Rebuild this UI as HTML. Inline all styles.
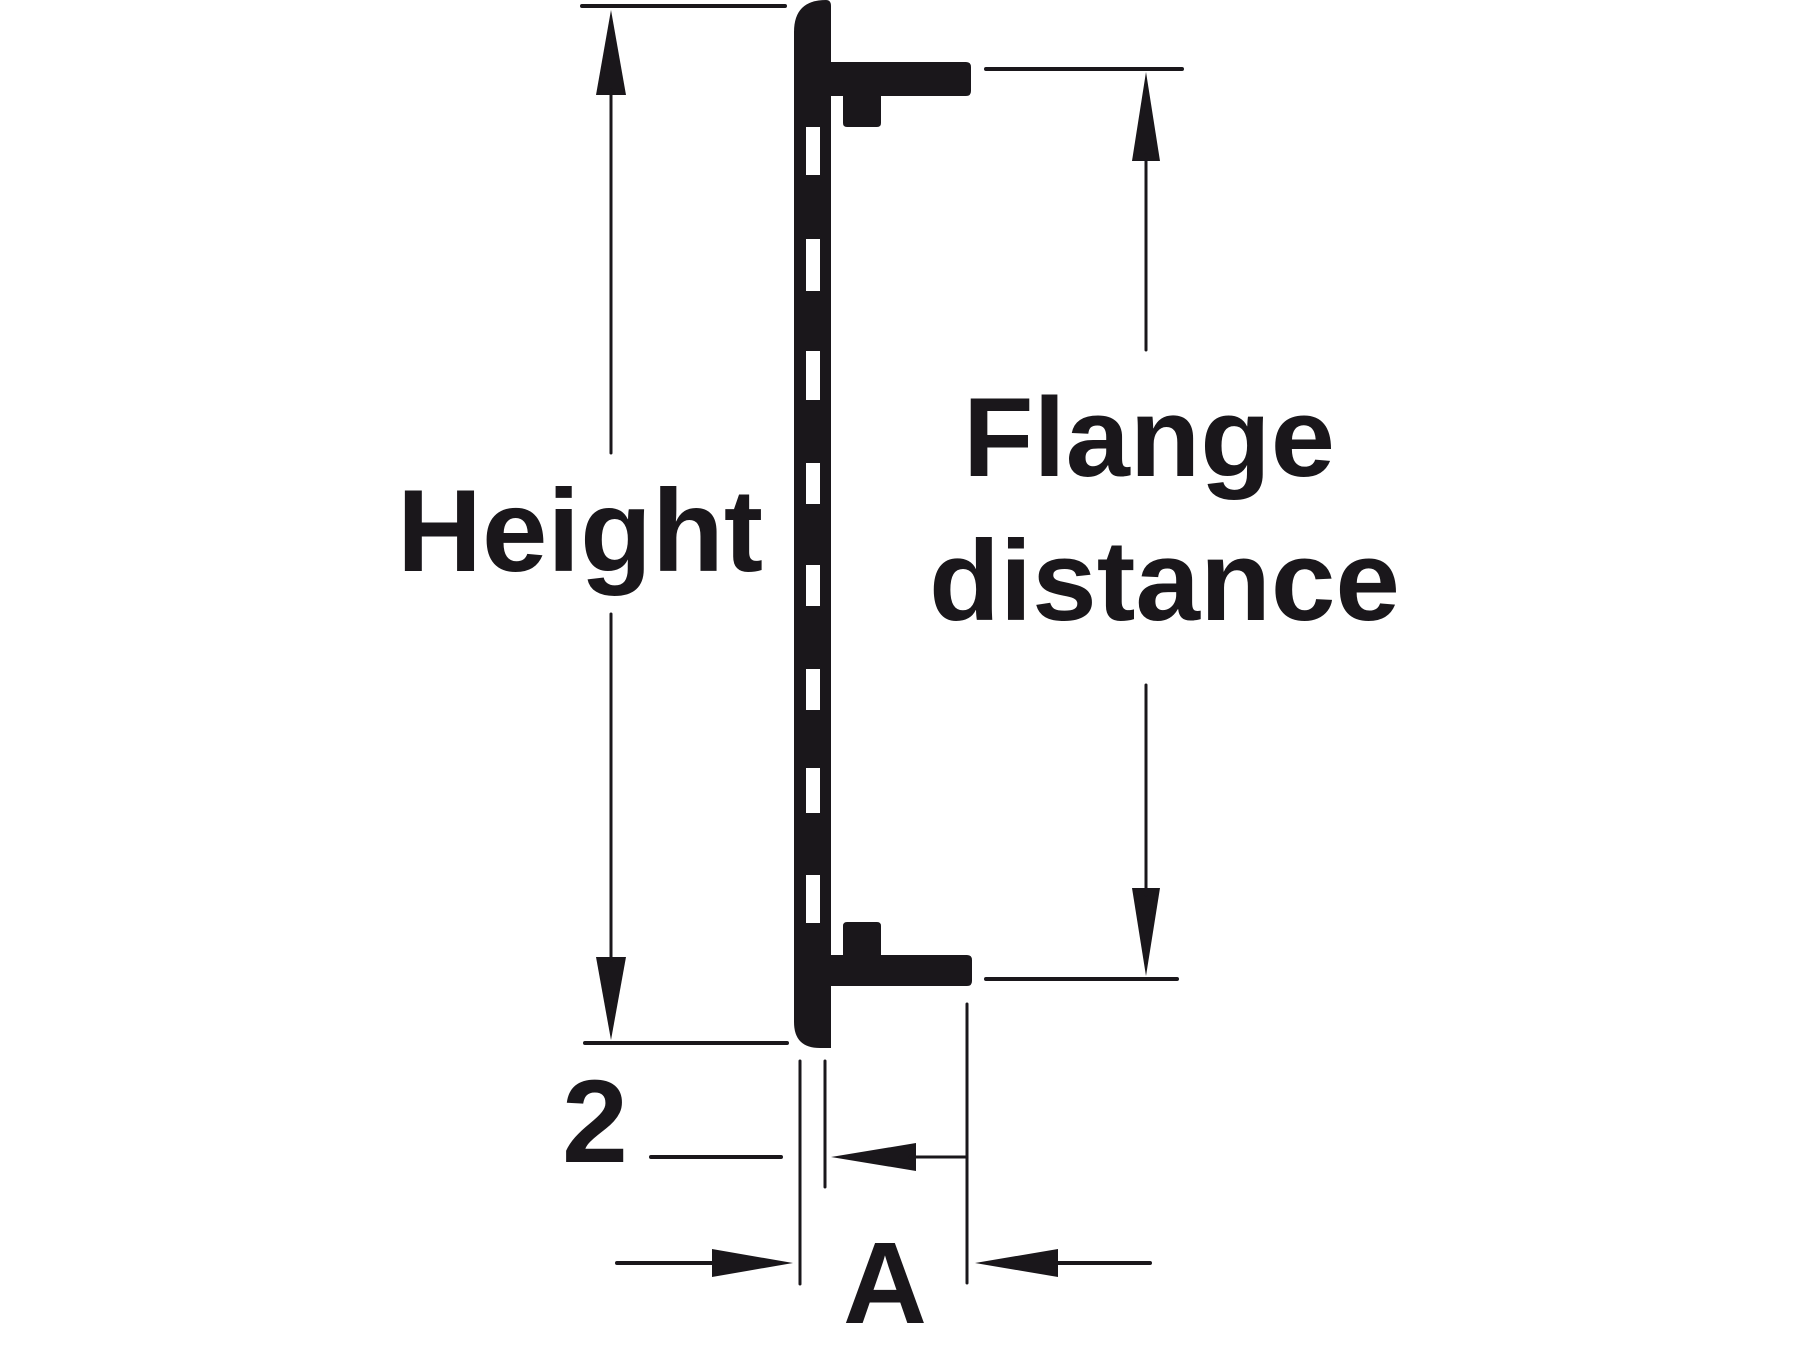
<!DOCTYPE html>
<html><head><meta charset="utf-8"><style>
html,body{margin:0;padding:0;background:#fff;}
svg{display:block;}
text{font-family:"Liberation Sans",Arial,sans-serif;font-weight:bold;fill:#1a171b;}
</style></head><body>
<svg width="1800" height="1350" viewBox="0 0 1800 1350" xmlns="http://www.w3.org/2000/svg">
<g fill="#1a171b" stroke="none">
  <path d="M794,32 Q794,0 826,0 Q831,0 831,6 L831,1048 L820,1048 Q794,1048 794,1022 Z"/>
  <path d="M831,62 L966,62 Q971,62 971,67 L971,91 Q971,96 966,96 L881,96 L881,123 Q881,127 877,127 L847,127 Q843,127 843,123 L843,96 L831,96 Z"/>
  <path d="M831,955 L843,955 L843,926 Q843,922 847,922 L877,922 Q881,922 881,926 L881,955 L967,955 Q972,955 972,960 L972,981 Q972,986 967,986 L831,986 Z"/>
  <polygon points="611,10 596,95 626,95"/>
  <polygon points="611,1040 596,957 626,957"/>
  <polygon points="1146,72 1132,161 1160,161"/>
  <polygon points="1146,976 1132,888 1160,888"/>
  <polygon points="831,1157 916,1143 916,1171"/>
  <polygon points="793,1263 712,1249 712,1277"/>
  <polygon points="975,1263 1058,1249 1058,1277"/>
</g>
<g fill="#fff">
  <rect x="806" y="127" width="14" height="48"/>
  <rect x="806" y="239" width="14" height="52"/>
  <rect x="806" y="351" width="14" height="49"/>
  <rect x="806" y="463" width="14" height="41"/>
  <rect x="806" y="565" width="14" height="41"/>
  <rect x="806" y="669" width="14" height="41"/>
  <rect x="806" y="768" width="14" height="45"/>
  <rect x="806" y="875" width="14" height="48"/>
</g>
<g stroke="#1a171b" stroke-linecap="round" fill="none">
  <line x1="582" y1="6" x2="785" y2="6" stroke-width="4"/>
  <line x1="585" y1="1043" x2="787" y2="1043" stroke-width="4"/>
  <line x1="611" y1="90" x2="611" y2="453" stroke-width="3"/>
  <line x1="611" y1="614" x2="611" y2="960" stroke-width="3"/>
  <line x1="986" y1="69" x2="1182" y2="69" stroke-width="4"/>
  <line x1="986" y1="979" x2="1177" y2="979" stroke-width="4"/>
  <line x1="1146" y1="155" x2="1146" y2="350" stroke-width="3"/>
  <line x1="1146" y1="685" x2="1146" y2="895" stroke-width="3"/>
  <line x1="800" y1="1061" x2="800" y2="1284" stroke-width="3"/>
  <line x1="825" y1="1061" x2="825" y2="1187" stroke-width="3"/>
  <line x1="967" y1="1004" x2="967" y2="1283" stroke-width="3"/>
  <line x1="651" y1="1157" x2="781" y2="1157" stroke-width="4"/>
  <line x1="910" y1="1157" x2="967" y2="1157" stroke-width="3"/>
  <line x1="617" y1="1263" x2="715" y2="1263" stroke-width="4"/>
  <line x1="1055" y1="1263" x2="1150" y2="1263" stroke-width="4"/>
</g>
<text x="397" y="571" font-size="117" textLength="366" lengthAdjust="spacingAndGlyphs">Height</text>
<text x="963" y="476" font-size="112" textLength="372" lengthAdjust="spacingAndGlyphs">Flange</text>
<text x="929" y="620" font-size="114" textLength="471" lengthAdjust="spacingAndGlyphs">distance</text>
<text x="562" y="1162" font-size="118" textLength="66" lengthAdjust="spacingAndGlyphs">2</text>
<text x="843" y="1323" font-size="116" textLength="84" lengthAdjust="spacingAndGlyphs">A</text>
</svg>
</body></html>
